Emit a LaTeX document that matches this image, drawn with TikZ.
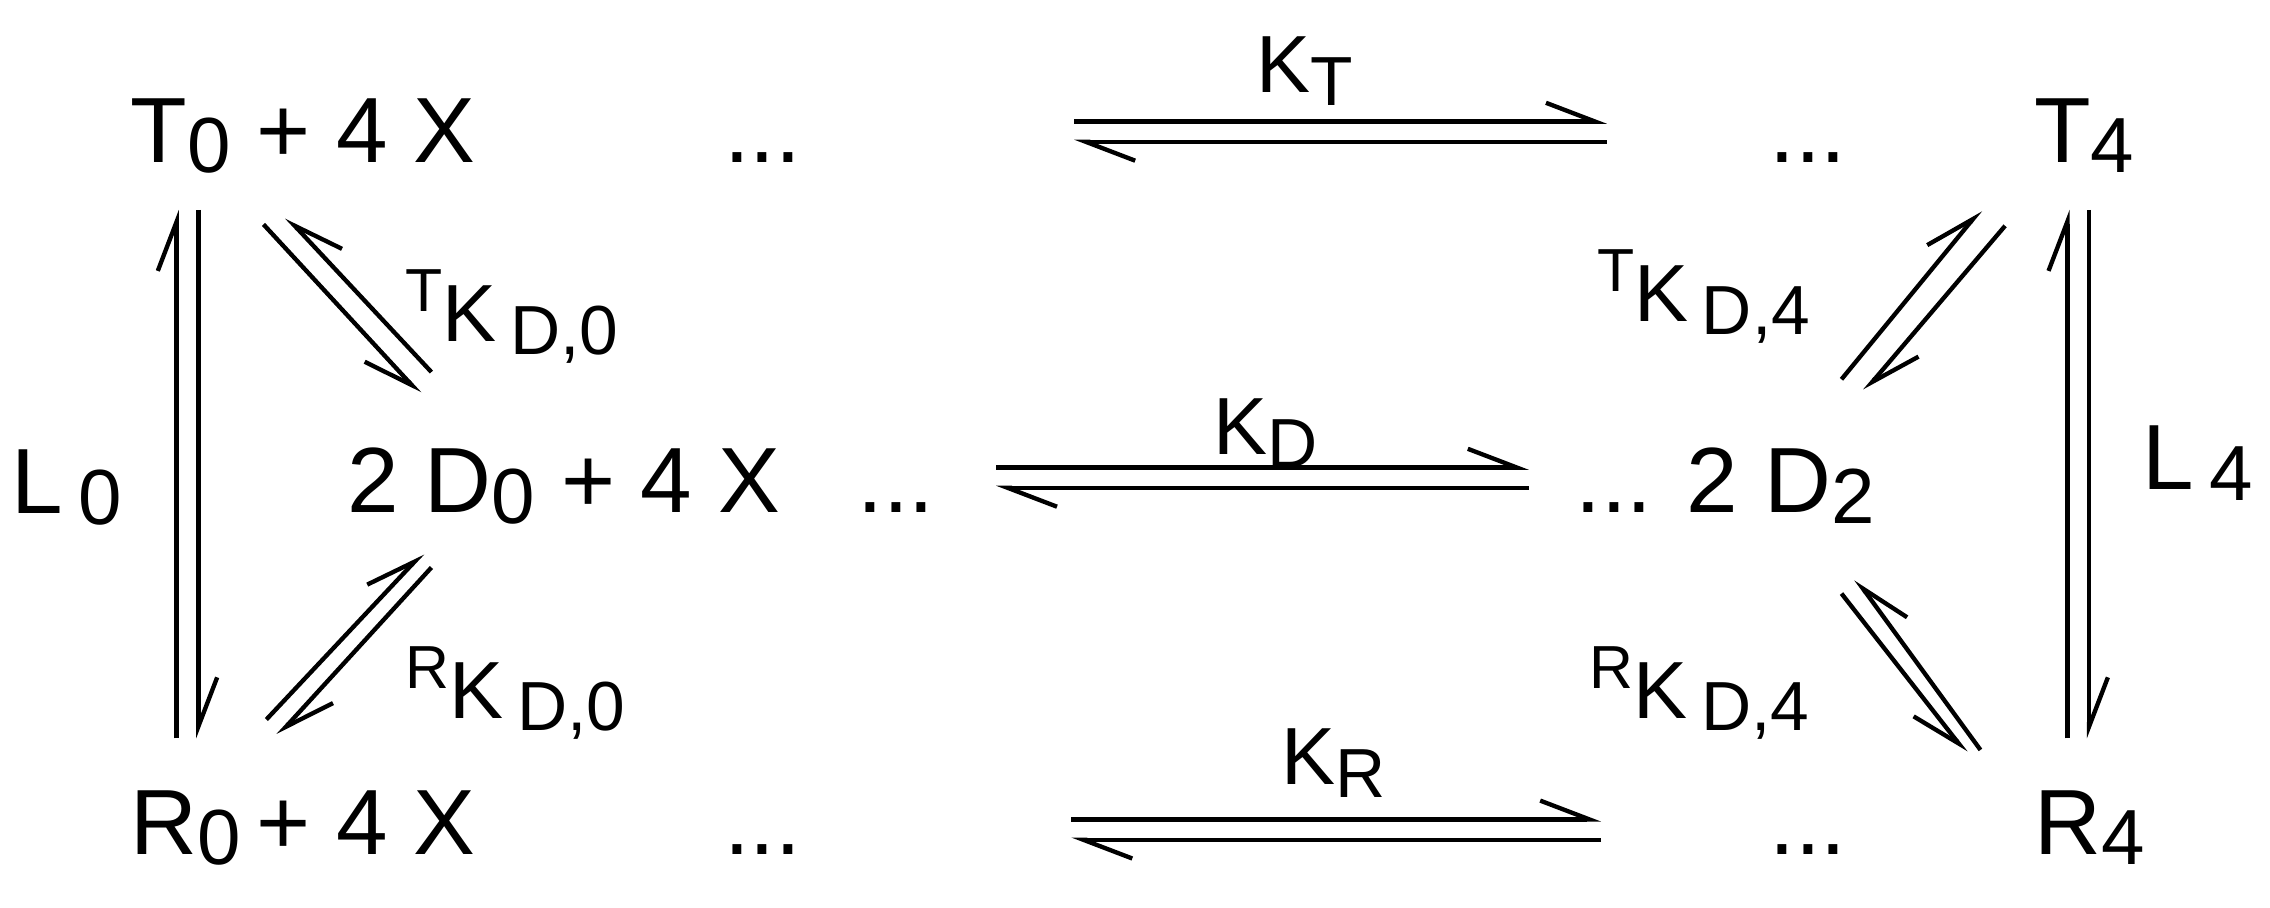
\documentclass[tikz,border=0pt]{standalone}
\usepackage{fontspec}
\setmainfont{Liberation Sans}
\usetikzlibrary{arrows.meta}
\newcommand{\sbs}[1]{\raisebox{-0.22ex}{\fontsize{54}{54}\selectfont #1}}
\newcommand{\sbl}[1]{\raisebox{-0.3ex}{\fontsize{48}{48}\selectfont #1}}
\newcommand{\sps}[1]{\raisebox{0.7ex}{\fontsize{42}{42}\selectfont #1}}
\begin{document}
\begin{tikzpicture}[x=1pt,y=1pt,
  big/.style={font=\fontsize{64}{66}\selectfont, inner sep=0pt, anchor=base west},
  lab/.style={font=\fontsize{56}{58}\selectfont, inner sep=0pt, anchor=base west},
  har/.style={line width=3pt, -{Straight Barb[harpoon,length=34pt,width=26pt,line width=3pt]}},
  hars/.style={line width=3pt, -{Straight Barb[harpoon,swap,length=34pt,width=26pt,line width=3pt]}}]
\useasboundingbox (0,0) rectangle (1568,-627);
% top row
\node[big] (t0) at (90,-112) {T\sbs{0} + 4 X};
\node[big] (d1) at (500,-112) {...};
\node[big] (d2) at (1222,-112) {...};
\node[big] (t4) at (1405,-112) {T\sbs{4}};
% middle row
\node[big] (d0) at (240,-354) {2 D\sbs{0} + 4 X \ \ ...};
\node[big] (dd2) at (1088,-354) {... 2 D\sbs{2}};
% bottom row
\node[big] (r0) at (90,-590) {R\sbs{0}\,+ 4 X};
\node[big] (d3) at (500,-590) {...};
\node[big] (d4) at (1222,-590) {...};
\node[big] (r4) at (1405,-590) {R\sbs{4}};
% labels
\node[lab] (kt) at (868,-64) {K\sbl{T}};
\node[lab] (kd) at (838,-314) {K\sbl{D}};
\node[lab] (kr) at (885,-542) {K\sbl{R}};
\node[big] (l0) at (8,-355) {L\,\sbs{0}};
\node[big] (l4) at (1480,-338) {L\,\sbs{4}};
\node[lab] (tk0) at (280,-236) {\sps{T}K\,\sbl{D,0}};
\node[lab] (rk0) at (280,-496) {\sps{R}K\,\sbl{D,0}};
\node[lab] (tk4) at (1103,-222) {\sps{T}K\,\sbl{D,4}};
\node[lab] (rk4) at (1098,-496) {\sps{R}K\,\sbl{D,4}};
% horizontal pairs
\draw[har] (742,-84) -- (1110,-84);
\draw[har] (1110,-98) -- (742,-98);
\draw[har] (688,-323) -- (1056,-323);
\draw[har] (1056,-337) -- (688,-337);
\draw[har] (740,-566) -- (1106,-566);
\draw[har] (1106,-580) -- (740,-580);
% verticals
\draw[har] (122,-510) -- (122,-145);
\draw[har] (137,-145) -- (137,-510);
\draw[har] (1428,-510) -- (1428,-145);
\draw[har] (1443,-145) -- (1443,-510);
% diagonals left
\draw[hars] (182,-155) -- (290,-272);
\draw[hars] (298,-257) -- (198,-150);
\draw[har] (184,-497) -- (292,-382);
\draw[har] (298,-392) -- (192,-508);
% diagonals right
\draw[har] (1272,-262) -- (1368,-145);
\draw[har] (1385,-156) -- (1288,-270);
\draw[hars] (1368,-518) -- (1282,-400);
\draw[hars] (1272,-410) -- (1358,-520);
\end{tikzpicture}
\end{document}
